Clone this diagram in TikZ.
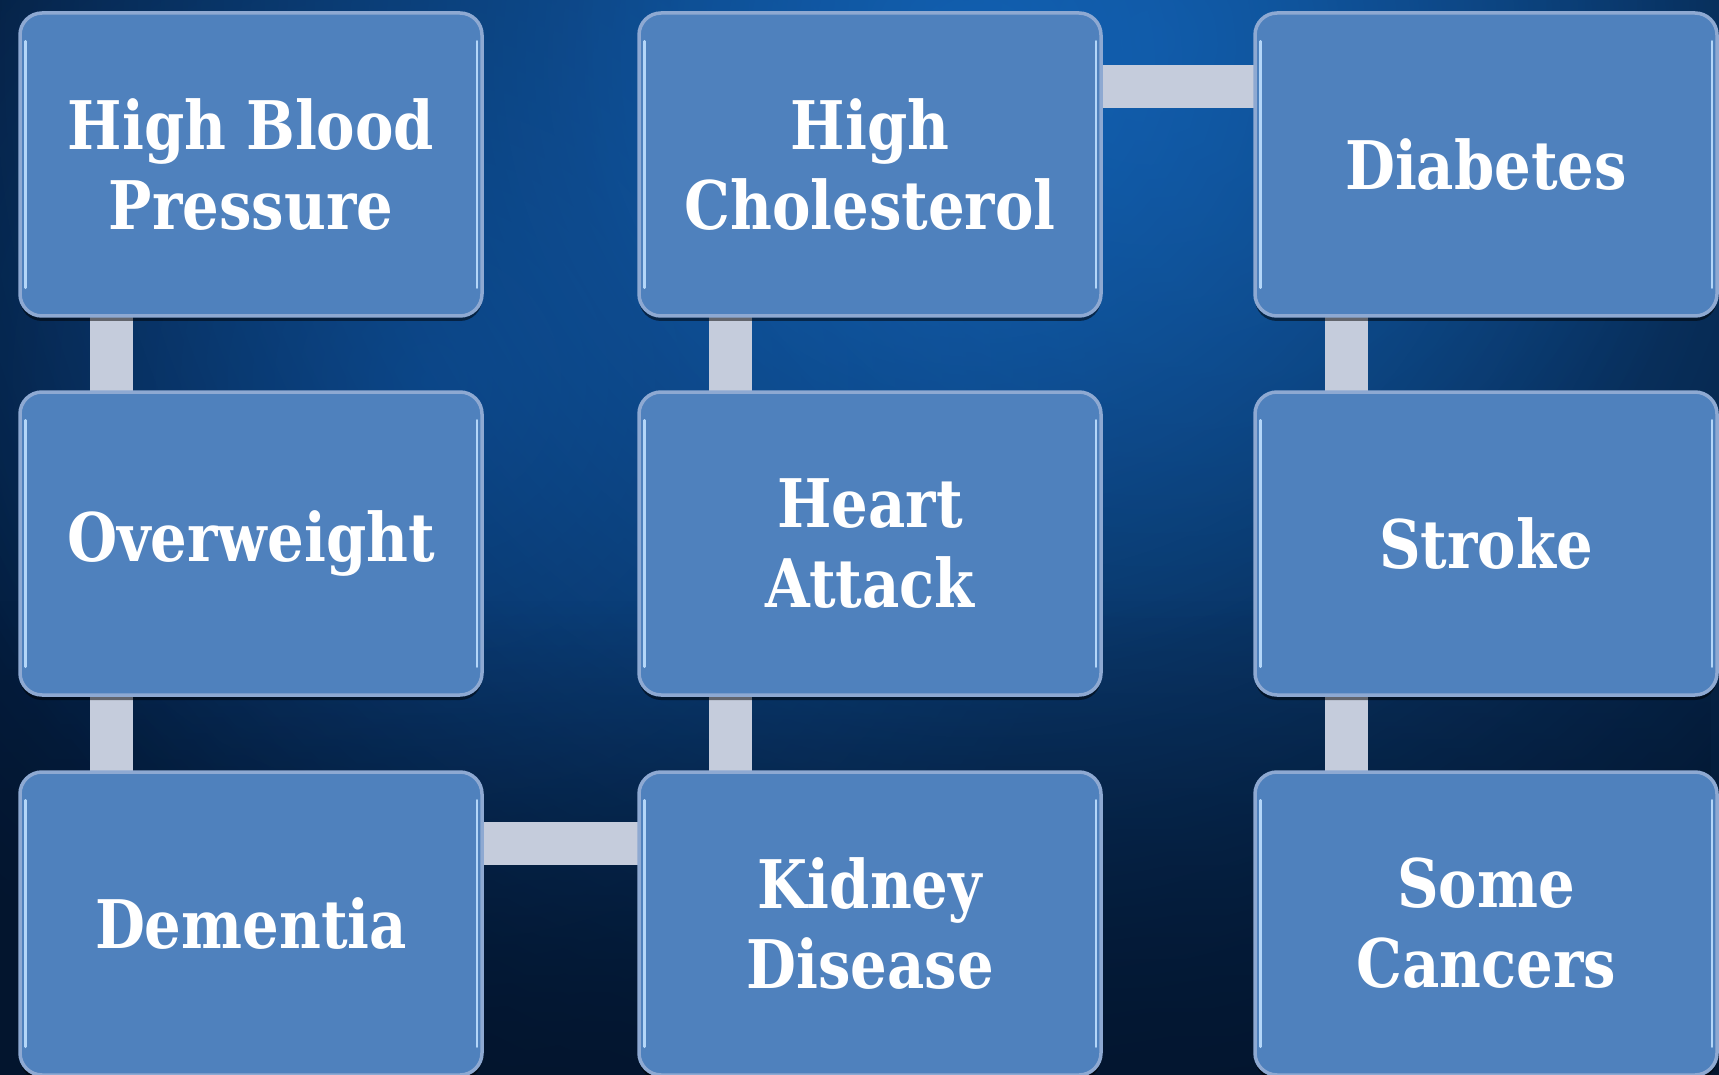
\documentclass[tikz,border=0pt]{standalone}
\usepackage{fontspec}
\setmainfont{DejaVu Serif}[FakeStretch=0.86]
\usetikzlibrary{calc,shadows,fadings}
\definecolor{boxfill}{HTML}{4F81BD}
\definecolor{boxedge}{HTML}{8EA9D2}
\definecolor{hilite}{HTML}{B4D6F8}
\definecolor{connc}{HTML}{C5CCDC}
\definecolor{bgdark}{HTML}{03152E}
\definecolor{bgblue}{HTML}{1468BF}
\definecolor{bgmid}{HTML}{0A3F80}
\tikzfading[name=glowfade, inner color=transparent!0, outer color=transparent!100]
\tikzfading[name=fadedown, top color=transparent!100, bottom color=transparent!15]
\pgfdeclarelayer{bg}
\pgfdeclarelayer{conn}
\pgfsetlayers{bg,conn,main}
\begin{document}
\begin{tikzpicture}[x=1pt,y=-1pt,
  box/.style={rectangle, rounded corners=22pt, fill=boxfill, draw=boxedge,
    line width=3.5pt, minimum width=462pt, minimum height=303pt, inner sep=0pt,
    text=white, align=center, font=\fontsize{67}{80}\selectfont\bfseries,
    drop shadow={shadow xshift=0pt, shadow yshift=-5pt, opacity=0.5, fill=black}},
  conn/.style={draw=connc, line width=43pt, shorten <=-12pt, shorten >=-12pt},
  hl/.style={draw=hilite, line width=2.5pt, line cap=round}]
\useasboundingbox (0,0) rectangle (1719,1075);
\begin{pgfonlayer}{bg}
  \fill[bgdark] (0,0) rectangle (1719,1075);
  \begin{scope}
    \clip (0,0) rectangle (1719,1075);
    \fill[bgmid, path fading=glowfade, opacity=0.7] (430,380) circle (700);
    \fill[bgblue, path fading=glowfade, opacity=0.85] (980,60) circle (1150);
    \fill[bgblue, path fading=glowfade, opacity=0.5] (1150,40) circle (600);
    \fill[bgdark, path fading=fadedown] (0,600) rectangle (1719,1075);
  \end{scope}
\end{pgfonlayer}

\node[box] (hbp) at (251,164.5) {High Blood\\Pressure};
\node[box] (hc)  at (870,164.5) {High\\Cholesterol};
\node[box] (dia) at (1486,164.5) {Diabetes};
\node[box] (ow)  at (251,543.5) {Overweight};
\node[box] (ha)  at (870,543.5) {Heart\\Attack};
\node[box] (st)  at (1486,543.5) {Stroke};
\node[box] (dem) at (251,923.5) {Dementia};
\node[box] (kid) at (870,923.5) {Kidney\\Disease};
\node[box] (sc)  at (1486,923.5) {Some\\Cancers};

\foreach \n in {hbp,hc,dia,ow,ha,st,dem,kid,sc}{
  \draw[hl] ($(\n.north west)+(7,30)$) -- ($(\n.south west)+(7,-30)$);
  \draw[hl] ($(\n.north east)+(-7,30)$) -- ($(\n.south east)+(-7,-30)$);
}

\begin{pgfonlayer}{conn}
  \draw[conn] ($(hbp.south west)+(93,0)$) -- ($(ow.north west)+(93,0)$);
  \draw[conn] ($(ow.south west)+(93,0)$) -- ($(dem.north west)+(93,0)$);
  \draw[conn] ($(hc.south west)+(93,0)$) -- ($(ha.north west)+(93,0)$);
  \draw[conn] ($(ha.south west)+(93,0)$) -- ($(kid.north west)+(93,0)$);
  \draw[conn] ($(dia.south west)+(93,0)$) -- ($(st.north west)+(93,0)$);
  \draw[conn] ($(st.south west)+(93,0)$) -- ($(sc.north west)+(93,0)$);
  \draw[conn] ($(hc.north east)+(0,75)$) -- ($(dia.north west)+(0,75)$);
  \draw[conn] ($(dem.north east)+(0,73)$) -- ($(kid.north west)+(0,73)$);
\end{pgfonlayer}
\end{tikzpicture}
\end{document}
